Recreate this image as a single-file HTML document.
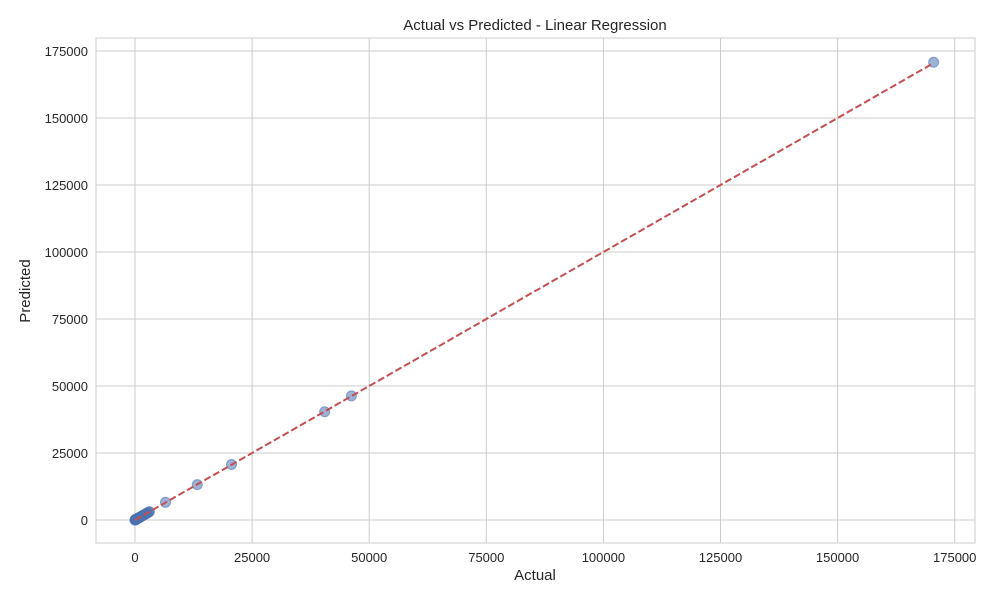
<!DOCTYPE html>
<html><head><meta charset="utf-8"><style>
body{margin:0;background:#fff;font-family:"Liberation Sans",sans-serif;}
svg text{font-family:"Liberation Sans",sans-serif;fill:#262626;}
</style></head><body>
<svg id="c" width="1000" height="600"></svg>
<script>
const actual=[0,20,50,80,120,150,200,260,320,400,480,550,650,750,850,950,1100,1250,1400,1550,1700,1900,2100,2300,2500,2700,2900,3100,6500,13300,20600,40500,46200,170500];
const predicted=[10,30,40,90,110,160,190,270,310,410,470,560,640,760,840,960,1090,1260,1390,1560,1690,1910,2090,2310,2490,2710,2890,3110,6600,13200,20700,40400,46300,170800];
const xTicks=[0,25000,50000,75000,100000,125000,150000,175000];
const yTicks=[0,25000,50000,75000,100000,125000,150000,175000];
const L=96,R=975,T=38,B=543;
const X=v=>135+v*(117.1/25000);
const Y=v=>520-v*(67/25000);
const s=document.getElementById('c');
const NS='http://www.w3.org/2000/svg';
function el(t,a,txt){const e=document.createElementNS(NS,t);for(const k in a)e.setAttribute(k,a[k]);if(txt!==undefined)e.textContent=txt;s.appendChild(e);return e;}
xTicks.forEach(v=>{
const g=el('line',{x1:X(v),x2:X(v),y1:T,y2:B,stroke:'#cccccc','stroke-width':1});


const t=el('text',{x:X(v),y:B+19,'text-anchor':'middle','font-size':13},v);


});
yTicks.forEach(v=>{
const g=el('line',{x1:L,x2:R,y1:Y(v),y2:Y(v),stroke:'#cccccc','stroke-width':1});


const t=el('text',{x:L-8,y:Y(v)+5,'text-anchor':'end','font-size':13},v);


});
const fr=el('rect',{x:L,y:T,width:R-L,height:B-T,fill:'none',stroke:'#cccccc','stroke-width':1});


actual.forEach((a,i)=>{
const c=el('circle',{cx:X(a),cy:Y(predicted[i]),r:5,fill:'#4c72b0','fill-opacity':0.55,stroke:'#4c72b0','stroke-opacity':0.6});


});
const mn=Math.min(...actual),mx=Math.max(...actual);
const ln=el('line',{x1:X(mn),y1:Y(mn),x2:X(mx),y2:Y(mx),stroke:'#c44e52','stroke-width':2,'stroke-dasharray':'7,3'});


const ti=el('text',{x:535,y:30,'text-anchor':'middle','font-size':15},'Actual vs Predicted - Linear Regression');


const xl=el('text',{x:535,y:580,'text-anchor':'middle','font-size':15},'Actual');


const yl=el('text',{x:30,y:291,'text-anchor':'middle','font-size':15,transform:'rotate(-90 30 291)'},'Predicted');


</script>
</body></html>
